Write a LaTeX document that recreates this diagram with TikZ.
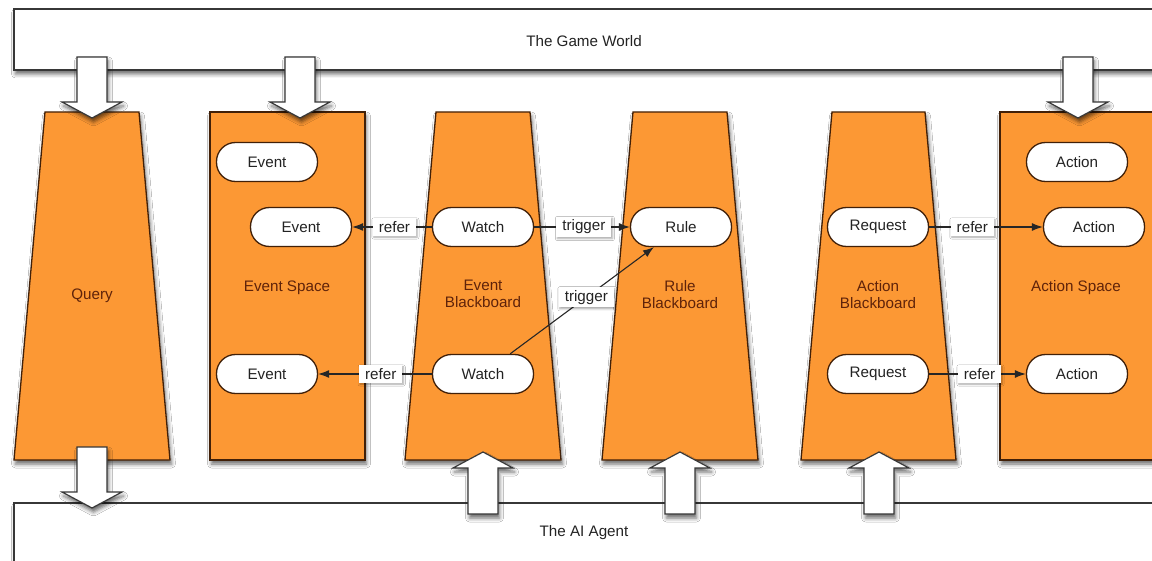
\documentclass[tikz,border=0pt]{standalone}
\usepackage{fontspec}
\setmainfont{Liberation Sans}
\usetikzlibrary{arrows.meta,shadows.blur}
\definecolor{shapeorange}{RGB}{252,152,52}
\definecolor{shapeedge}{RGB}{65,32,8}
\definecolor{shapetext}{RGB}{95,35,10}
\definecolor{inktext}{RGB}{35,35,35}
\definecolor{baredge}{RGB}{55,55,55}

\tikzset{
  softshadow/.style={blur shadow={shadow xshift=1.5pt,shadow yshift=-4pt,shadow blur radius=4pt,shadow opacity=60}},
  labelfont/.style={font=\fontsize{15.2}{17}\selectfont},
  bar/.style={draw=baredge,line width=1.6pt,fill=white,softshadow},
  bartext/.style={labelfont,text=inktext},
  store/.style={draw=shapeedge,line width=1.3pt,fill=shapeorange,softshadow},
  storetext/.style={labelfont,text=shapetext,align=center},
  pill/.style={draw=shapeedge,line width=1.3pt,fill=white,rounded corners=19pt,
    minimum width=101pt,minimum height=39pt,labelfont,text=inktext},
  link/.style={draw=black!85,line width=1.1pt,-{Latex[length=11pt,width=8pt]}},
  linklabel/.style={fill=white,inner xsep=6pt,inner ysep=3pt,labelfont,text=inktext,
    blur shadow={shadow xshift=1pt,shadow yshift=-1.5pt,shadow blur radius=2pt,shadow opacity=35}},
  blockarrow/.style={draw=baredge,line width=1.2pt,fill=white,softshadow},
  pics/dropblock/.style={code={
    \draw[blockarrow] (0,0) -- (-30,-16) -- (-15,-16) -- (-15,-61) -- (15,-61)
      -- (15,-16) -- (30,-16) -- cycle;}},
  pics/liftblock/.style={code={
    \draw[blockarrow] (0,0) -- (-30,16) -- (-15,16) -- (-15,62) -- (15,62)
      -- (15,16) -- (30,16) -- cycle;}}
}

\begin{document}
\begin{tikzpicture}[x=1pt,y=-1pt]
\clip (0,0) rectangle (1152,561);
\fill[white] (0,0) rectangle (1152,561);

% the two outer layers
\draw[bar] (14,9) rectangle (1175,70);
\node[bartext] (world) at (584,41) {The Game World};
\draw[bar] (14,503) rectangle (1175,590);
\node[bartext] (agent) at (584,533) {The AI Agent};

% spaces and blackboards
\draw[store] (45,112) -- (139,112) -- (170,460) -- (14,460) -- cycle;
\draw[store] (210,112) rectangle (365,460);
\draw[store] (436,112) -- (530,112) -- (561,460) -- (405,460) -- cycle;
\draw[store] (633,112) -- (727,112) -- (758,460) -- (602,460) -- cycle;
\draw[store] (832,112) -- (925,112) -- (956,460) -- (801,460) -- cycle;
\draw[store] (1000,112) rectangle (1175,460);

\node[storetext] (query) at (92,296) {Query};
\node[storetext] (evspace) at (287,288) {Event Space};
\node[storetext] (evbb) at (483,294) {Event\\Blackboard};
\node[storetext] (rulebb) at (680,295) {Rule\\Blackboard};
\node[storetext] (actbb) at (878,295) {Action\\Blackboard};
\node[storetext] (actspace) at (1076,288) {Action Space};

% entries
\node[pill] (ev1) at (267,162) {Event};
\node[pill] (ev2) at (301,227) {Event};
\node[pill] (ev3) at (267,374) {Event};
\node[pill] (w1) at (483,227) {Watch};
\node[pill] (w2) at (483,374) {Watch};
\node[pill] (rule) at (681,227) {Rule};
\node[pill] (rq1) at (878,227) {Request};
\node[pill] (rq2) at (878,374) {Request};
\node[pill] (ac1) at (1077,162) {Action};
\node[pill] (ac2) at (1094,227) {Action};
\node[pill] (ac3) at (1077,374) {Action};

% references and triggers
\draw[link] (w1) -- node[linklabel,pos=0.47] {refer} (ev2);
\draw[link] (w2) -- node[linklabel,pos=0.45] {refer} (ev3);
\draw[link] (w1) -- node[linklabel,pos=0.52] {trigger} (rule);
\draw[link] (w2) -- node[linklabel,pos=0.53] {trigger} (rule);
\draw[link] (rq1) -- node[linklabel,pos=0.38] {refer} (ac2);
\draw[link] (rq2) -- node[linklabel,pos=0.52] {refer} (ac3);

% flows between the layers
\pic at (92,118) {dropblock};
\pic at (300,118) {dropblock};
\pic at (1078,118) {dropblock};
\pic at (92,508) {dropblock};
\pic at (483,452) {liftblock};
\pic at (680,452) {liftblock};
\pic at (879,452) {liftblock};
\end{tikzpicture}
\end{document}
